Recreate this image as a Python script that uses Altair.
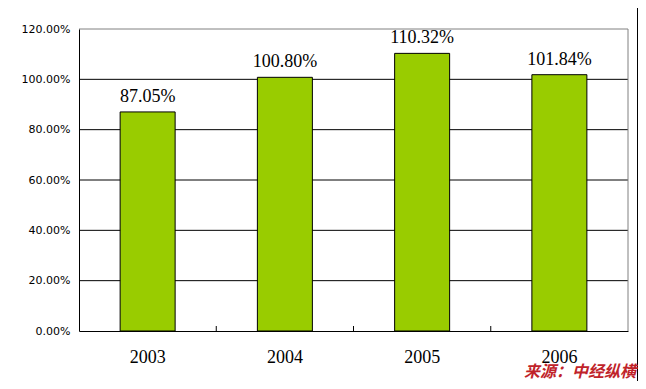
import altair as alt
import pandas as pd

years = ["2003", "2004", "2005", "2006"]
values = [0.8705, 1.0080, 1.1032, 1.0184]
labels = ["87.05%", "100.80%", "110.32%", "101.84%"]
grid_values = [0.2, 0.4, 0.6, 0.8, 1.0]
axis_values = [0.0, 0.2, 0.4, 0.6, 0.8, 1.0, 1.2]
boundary_years = ["2004", "2005", "2006"]
source_text = "来源：中经纵横"

df = pd.DataFrame({"year": years, "value": values, "label": labels})
grid_df = pd.DataFrame({"g": grid_values})
tick_df = pd.DataFrame({"year": boundary_years})
one = pd.DataFrame({"a": [0]})

W, H = 549, 302

xscale = alt.Scale(domain=years, paddingInner=0, paddingOuter=0)
yscale = alt.Scale(domain=[0, 1.2], nice=False)

xaxis = alt.Axis(title=None, labelAngle=0, ticks=False, tickSize=0, grid=False,
                 domainColor="black", labelFont="Liberation Serif", labelFontSize=18,
                 labelColor="black", labelPadding=17, zindex=1)
yaxis = alt.Axis(title=None, values=axis_values, format=".2%", ticks=False, tickSize=0,
                 grid=False, domainColor="black", labelFont="DejaVu Sans",
                 labelFontSize=11, labelColor="black", labelPadding=9, zindex=1)

bg = alt.Chart(one).mark_rect(color="white").encode(
    x=alt.value(-71), x2=alt.value(558), y=alt.value(-21), y2=alt.value(352)
)

grid = alt.Chart(grid_df).mark_rule(color="black", strokeWidth=1).encode(
    y=alt.Y("g:Q", scale=yscale, axis=yaxis),
    x=alt.value(0), x2=alt.value(W)
)

top_border = alt.Chart(one).mark_rule(color="#808080", strokeWidth=1).encode(
    y=alt.datum(1.2), x=alt.value(0), x2=alt.value(W)
)
right_border = alt.Chart(one).mark_rule(color="#808080", strokeWidth=1).encode(
    x=alt.value(W), y=alt.value(0), y2=alt.value(H)
)

bars = alt.Chart(df).mark_bar(color="#99CC00", stroke="black", strokeWidth=1, size=55).encode(
    x=alt.X("year:N", scale=xscale, axis=xaxis, sort=years),
    y=alt.Y("value:Q", scale=yscale, axis=yaxis)
)

text = alt.Chart(df).mark_text(baseline="alphabetic", dy=-10, font="Liberation Serif",
                               fontSize=18, color="black").encode(
    x=alt.X("year:N", scale=xscale, axis=xaxis, sort=years),
    y=alt.Y("value:Q", scale=yscale, axis=yaxis),
    text="label:N"
)

ticks = alt.Chart(tick_df).mark_rule(color="black", strokeWidth=1).encode(
    x=alt.X("year:N", scale=xscale, axis=xaxis, bandPosition=0),
    y=alt.value(H - 5), y2=alt.value(H)
)

source = alt.Chart(one).mark_text(align="right", baseline="middle", font="Noto Sans CJK SC",
                                  fontWeight="bold", fontStyle="italic", fontSize=16,
                                  color="#C0232A").encode(
    x=alt.value(557), y=alt.value(343), text=alt.value(source_text)
)

chart = alt.layer(bg, grid, top_border, right_border, bars, text, ticks, source).properties(
    width=W, height=H,
    autosize=alt.AutoSizeParams(type="none"),
    padding={"left": 71, "top": 21, "right": 10, "bottom": 50},
    background="black",
).configure_view(stroke=None)

chart.save("out.html", embed_options={"renderer": "svg", "actions": False})
